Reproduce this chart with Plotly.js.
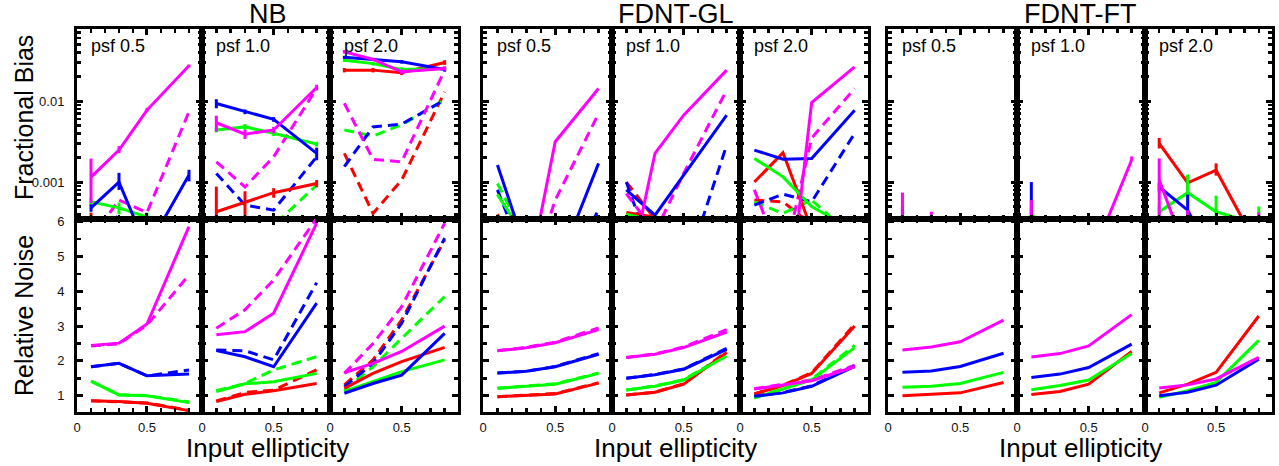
<!DOCTYPE html>
<html>
<head>
<meta charset="utf-8">
<script src="https://cdn.plot.ly/plotly-3.0.1.min.js"></script>
<style>html,body{margin:0;padding:0;background:#fff;}#chart{width:1279px;height:466px;}</style>
</head>
<body>
<div id="chart"></div>
<script>
// ---------------- DATA ----------------
const X_ELL = [0.1, 0.3, 0.5, 0.8];
const METHODS = ['NB', 'FDNT-GL', 'FDNT-FT'];
const PSF_LABELS = ['psf 0.5', 'psf 1.0', 'psf 2.0'];
const SERIES_COLORS = ['#ff0000', '#00ff00', '#0000ff', '#ff00ff']; // red, green, blue, magenta
const X_TICK_LABELS = ['0', '0.5'];
const BIAS_TICK_LABELS = ['0.001', '0.01'];
const NOISE_TICK_LABELS = ['1', '2', '3', '4', '5', '6'];

// Fractional bias (series order: red, green, blue, magenta); S = solid, D = dashed
const NB05_BIAS_S = [[0.00037,0.0001,0.00008,0.00005],[0.00057,0.00048,0.00037,0.0001],[0.00048,0.001,0.00015,0.00122],[0.00115,0.00248,0.00774,0.0273]];
const NB05_BIAS_D = [[0.0001,0.0001,0.0001,0.0001],[0.0001,0.0001,0.0001,0.0001],[0.00015,0.0004,0.0001,0.0001],[0.0002,0.0006,0.00042,0.00738]];
const NB10_BIAS_S = [[0.00043,0.00057,0.00074,0.00096],[0.0044,0.0048,0.0040,0.00294],[0.00935,0.00738,0.00594,0.00226],[0.0054,0.0039,0.0044,0.0147]];
const NB10_BIAS_D = [[0.0001,0.0001,0.0001,0.0001],[0.0001,0.0001,0.00029,0.00092],[0.00128,0.00052,0.00045,0.00205],[0.00178,0.00087,0.00205,0.0144]];
const NB20_BIAS_S = [[0.0241,0.0241,0.0224,0.030],[0.032,0.029,0.0246,0.0253],[0.0347,0.0327,0.0305,0.0246],[0.0407,0.0327,0.023,0.0253]];
const NB20_BIAS_D = [[0.00226,0.00041,0.00106,0.013],[0.0044,0.0037,0.0051,0.0103],[0.00155,0.0048,0.0052,0.0103],[0.0094,0.00191,0.00178,0.0241]];

const GL05_BIAS_S = [[0.0004,0.0001,0.0001,0.0001],[0.0007,0.0002,0.0001,0.0001],[0.00162,0.00014,0.000076,0.0017],[0.00003,0.00005,0.00315,0.0143]];
const GL05_BIAS_D = [[0.0001,0.0001,0.0001,0.0001],[0.00096,0.0002,0.0001,0.0001],[0.0008,0.0001,0.00005,0.00045],[0.00003,0.00005,0.0006,0.0070]];
const GL10_BIAS_S = [[0.00042,0.00037,0.0001,0.0001],[0.0004,0.00033,0.0001,0.0001],[0.0008,0.00039,0.00122,0.0067],[0.00005,0.00226,0.0067,0.0241]];
const GL10_BIAS_D = [[0.001,0.00035,0.0001,0.0001],[0.0004,0.0003,0.0001,0.0001],[0.001,0.0001,0.000069,0.00286],[0.00072,0.00024,0.00128,0.0137]];
const GL20_BIAS_S = [[0.001,0.0023,0.00026,0.0001],[0.00196,0.00116,0.0005,0.00025],[0.00248,0.00192,0.00196,0.0077],[0.0001,0.0000085,0.0096,0.0265]];
const GL20_BIAS_D = [[0.0006,0.00057,0.0003,0.0001],[0.00057,0.00041,0.0006,0.0002],[0.00052,0.00071,0.00057,0.0040],[0.0008,0.0001,0.0035,0.0143]];

const FT05_BIAS_S = [[0.0003,0.0001,0.0001,0.0001],[0.0001,0.0001,0.0001,0.0001],[0.0003,0.0001,0.0001,0.0001],[0.0003,0.0003,0.0001,0.0001]];
const FT10_BIAS_S = [[0.0001,0.0001,0.0001,0.0001],[0.0004,0.0002,0.0001,0.0001],[0.0003,0.0001,0.0001,0.0001],[0.0003,0.0001,0.000095,0.00187]];
const FT20_BIAS_S = [[0.003,0.00098,0.0014,0.00015],[0.00043,0.00074,0.00043,0.0003],[0.00087,0.00045,0.0001,0.0001],[0.00106,0.00012,0.0001,0.0001]];

// Error bars on the bias curves (upper, lower), series order red, green, blue, magenta
const NB05_ERR_UP = [[0.00005,0,0,0],[0.00006,0.00008,0.00005,0],[0.00005,0.0003,0,0.0002],[0.0008,0.0003,0.0005,0.001]];
const NB05_ERR_DN = [[0.00005,0,0,0],[0.00006,0.00008,0.00005,0],[0.00005,0.0002,0,0.0002],[0.0006,0.0002,0.0004,0.001]];
const NB10_ERR_UP = [[0.00045,0.0002,0.0001,0.0001],[0.0003,0.0004,0.0003,0.0002],[0.0012,0.0005,0.0004,0.0004],[0.0012,0.0005,0.0004,0.0012]];
const NB10_ERR_DN = [[0.0002,0.0002,0.0001,0.0001],[0.0003,0.0004,0.0003,0.0002],[0.0012,0.0005,0.0004,0.0004],[0.0012,0.0005,0.0004,0.0012]];
const NB20_ERR_UP = [[0.0015,0.0015,0.0015,0.002],[0.0015,0.0015,0.0015,0.0015],[0.0015,0.0015,0.0015,0.0015],[0.002,0.0015,0.0015,0.0015]];
const NB20_ERR_DN = [[0.0015,0.0015,0.0015,0.002],[0.0015,0.0015,0.0015,0.0015],[0.0015,0.0015,0.0015,0.0015],[0.002,0.0015,0.0015,0.0015]];
const FT05_ERR_UP = [[0.0002,0,0,0],[0,0,0,0],[0.0002,0,0,0],[0.00044,0.00013,0,0]];
const FT10_ERR_UP = [[0,0,0,0],[0.0001,0,0,0],[0.0007,0,0,0],[0.0003,0,0,0.0002]];
const FT20_ERR_UP = [[0.0005,0.0002,0.0003,0],[0.0001,0.0005,0.00025,0.0002],[0.0001,0.00025,0,0],[0.0009,0.00033,0,0.00032]];
const FT20_ERR_DN = [[0.0004,0.0002,0.0002,0],[0.0001,0.0002,0.0002,0],[0.0001,0.0001,0,0],[0.0007,0,0,0]];

// Relative noise (series order: red, green, blue, magenta)
const NB05_NOISE_S = [[0.85,0.83,0.78,0.57],[1.42,1.02,1.0,0.80],[1.83,1.93,1.57,1.62],[2.44,2.51,3.06,5.86]];
const NB05_NOISE_D = [[0.85,0.83,0.79,0.58],[1.42,1.03,1.0,0.82],[1.83,1.93,1.57,1.74],[2.43,2.49,3.03,4.47]];
const NB10_NOISE_S = [[0.83,1.04,1.14,1.35],[1.12,1.34,1.40,1.64],[2.30,2.12,1.83,3.66],[2.75,2.84,3.37,5.96]];
const NB10_NOISE_D = [[0.85,1.09,1.16,1.74],[1.14,1.35,1.74,2.12],[2.31,2.29,2.03,4.25],[2.94,3.47,4.33,6.1]];
const NB20_NOISE_S = [[1.21,1.64,1.98,2.39],[1.12,1.40,1.69,2.03],[1.07,1.35,1.59,2.79],[1.66,1.93,2.27,3.0]];
const NB20_NOISE_D = [[1.31,2.03,3.18,5.48],[1.16,1.83,2.65,3.85],[1.26,1.93,3.08,5.53],[1.64,2.5,3.56,5.96]];

const GL05_NOISE_S = [[0.97,1.01,1.05,1.36],[1.21,1.27,1.33,1.64],[1.65,1.70,1.83,2.19],[2.29,2.38,2.52,2.90]];
const GL05_NOISE_D = [[0.97,1.01,1.06,1.37],[1.21,1.27,1.34,1.65],[1.65,1.70,1.84,2.21],[2.29,2.39,2.54,2.95]];
const GL10_NOISE_S = [[1.02,1.10,1.33,2.24],[1.16,1.27,1.45,2.14],[1.50,1.60,1.76,2.33],[2.10,2.19,2.38,2.83]];
const GL10_NOISE_D = [[1.02,1.10,1.34,2.27],[1.16,1.28,1.46,2.17],[1.50,1.61,1.77,2.36],[2.10,2.20,2.40,2.90]];
const GL20_NOISE_S = [[1.05,1.29,1.64,3.0],[0.93,1.19,1.45,2.38],[0.98,1.08,1.27,1.84],[1.19,1.31,1.43,1.83]];
const GL20_NOISE_D = [[1.05,1.30,1.66,3.05],[0.94,1.20,1.47,2.45],[0.99,1.09,1.28,1.87],[1.20,1.32,1.45,1.87]];

const FT05_NOISE_S = [[1.0,1.03,1.08,1.38],[1.24,1.27,1.35,1.67],[1.67,1.71,1.84,2.22],[2.31,2.40,2.55,3.17]];
const FT10_NOISE_S = [[1.03,1.12,1.33,2.27],[1.17,1.29,1.45,2.21],[1.52,1.62,1.81,2.48],[2.11,2.21,2.43,3.33]];
const FT20_NOISE_S = [[1.08,1.33,1.67,3.29],[0.95,1.14,1.38,2.59],[1.0,1.10,1.30,2.05],[1.22,1.31,1.48,2.10]];

// ---------------- LAYOUT / DRAWING ----------------
const W = 1279, H = 466;
const COL_PX = [[77,202],[202,330],[330,458],[483,612],[612,740],[740,868],[888,1017],[1017,1145],[1145,1272]];
const ROW_PX = [[29,219],[219,412]];
const px2x = p => p / W;
const px2y = p => 1 - p / H;

const PANELS = [
  {bS:NB05_BIAS_S,bD:NB05_BIAS_D,eU:NB05_ERR_UP,eD:NB05_ERR_DN,nS:NB05_NOISE_S,nD:NB05_NOISE_D},
  {bS:NB10_BIAS_S,bD:NB10_BIAS_D,eU:NB10_ERR_UP,eD:NB10_ERR_DN,nS:NB10_NOISE_S,nD:NB10_NOISE_D},
  {bS:NB20_BIAS_S,bD:NB20_BIAS_D,eU:NB20_ERR_UP,eD:NB20_ERR_DN,nS:NB20_NOISE_S,nD:NB20_NOISE_D},
  {bS:GL05_BIAS_S,bD:GL05_BIAS_D,eU:null,eD:null,nS:GL05_NOISE_S,nD:GL05_NOISE_D},
  {bS:GL10_BIAS_S,bD:GL10_BIAS_D,eU:null,eD:null,nS:GL10_NOISE_S,nD:GL10_NOISE_D},
  {bS:GL20_BIAS_S,bD:GL20_BIAS_D,eU:null,eD:null,nS:GL20_NOISE_S,nD:GL20_NOISE_D},
  {bS:FT05_BIAS_S,bD:null,eU:FT05_ERR_UP,eD:null,nS:FT05_NOISE_S,nD:null},
  {bS:FT10_BIAS_S,bD:null,eU:FT10_ERR_UP,eD:null,nS:FT10_NOISE_S,nD:null},
  {bS:FT20_BIAS_S,bD:null,eU:FT20_ERR_UP,eD:FT20_ERR_DN,nS:FT20_NOISE_S,nD:null}
];

const FONT = 'Liberation Sans, Arial, Helvetica, sans-serif';
const traces = [];
const layout = {
  width: W, height: H,
  margin: {l:0, r:0, t:0, b:0},
  paper_bgcolor: '#fff', plot_bgcolor: '#fff',
  showlegend: false,
  font: {family: FONT, color: '#000'},
  annotations: []
};

const BIAS_MINOR = [];
[0.0001, 0.001, 0.01].forEach(d => { for (let k = 2; k <= 9; k++) BIAS_MINOR.push(d * k); });

let axN = 0;
function addAxes(col, row) {
  axN++;
  const xs = axN === 1 ? 'xaxis' : 'xaxis' + axN;
  const ys = axN === 1 ? 'yaxis' : 'yaxis' + axN;
  const xr = axN === 1 ? 'x' : 'x' + axN;
  const yr = axN === 1 ? 'y' : 'y' + axN;
  const [l, r] = COL_PX[col];
  const [t, b] = ROW_PX[row];
  layout[xs] = {
    domain: [px2x(l), px2x(r)], anchor: yr, range: [0, 0.893],
    showline: true, linewidth: 3, linecolor: '#000', mirror: 'ticks',
    ticks: 'inside', ticklen: 6, tickwidth: 3, tickcolor: '#000',
    tickmode: 'array', tickvals: [0, 0.5], ticktext: X_TICK_LABELS,
    minor: {ticks: 'inside', ticklen: 4, tickwidth: 2.5, tickcolor: '#000', dtick: 0.1, tick0: 0, showgrid: false},
    showticklabels: row === 1, ticklabelstandoff: 1,
    tickfont: {family: FONT, size: 13, color: '#111'},
    showgrid: false, zeroline: false, fixedrange: true
  };
  const y = {
    domain: [px2y(b), px2y(t)], anchor: xr,
    showline: true, linewidth: 3, linecolor: '#000', mirror: 'ticks',
    ticks: 'inside', ticklen: 6, tickwidth: 3, tickcolor: '#000',
    showticklabels: col === 0, ticklabelstandoff: 7,
    tickfont: {family: FONT, size: 13, color: '#111'},
    showgrid: false, zeroline: false, fixedrange: true
  };
  if (row === 0) {
    Object.assign(y, {type: 'log', range: [Math.log10(0.00035), Math.log10(0.0776)],
      tickmode: 'array', tickvals: [0.001, 0.01], ticktext: BIAS_TICK_LABELS,
      minor: {ticks: 'inside', ticklen: 4, tickwidth: 2.5, tickcolor: '#000', tickmode: 'array', tickvals: BIAS_MINOR, showgrid: false}});
  } else {
    Object.assign(y, {range: [0.53, 6.08], tickmode: 'array', tickvals: [1,2,3,4,5,6], ticktext: NOISE_TICK_LABELS,
      minor: {ticks: 'inside', ticklen: 4, tickwidth: 2.5, tickcolor: '#000', dtick: 0.5, tick0: 0, showgrid: false}});
  }
  layout[ys] = y;
  return [xr, yr];
}

function addSeries(xr, yr, set, dashed, errUp, errDn) {
  if (!set) return;
  set.forEach((vals, i) => {
    const tr = {
      type: 'scatter', mode: 'lines', x: X_ELL, y: vals, xaxis: xr, yaxis: yr,
      line: {color: SERIES_COLORS[i], width: 3, dash: dashed ? '10px,6px' : 'solid'},
      hoverinfo: 'skip', cliponaxis: true
    };
    if (errUp) {
      tr.error_y = {type: 'data', symmetric: false, array: errUp[i], arrayminus: errDn ? errDn[i] : errUp[i].map(() => 0),
        color: SERIES_COLORS[i], thickness: 3, width: 0};
    }
    traces.push(tr);
  });
}

PANELS.forEach((p, col) => {
  const [xb, yb] = addAxes(col, 0);
  addSeries(xb, yb, p.bD, true, null, null);
  addSeries(xb, yb, p.bS, false, p.eU, p.eD);
  const [xn, yn] = addAxes(col, 1);
  addSeries(xn, yn, p.nD, true, null, null);
  addSeries(xn, yn, p.nS, false, null, null);
  layout.annotations.push({text: PSF_LABELS[col % 3], xref: 'paper', yref: 'paper',
    x: px2x(COL_PX[col][0] + 12), y: px2y(46), xanchor: 'left', yanchor: 'middle', showarrow: false,
    font: {family: FONT, size: 18, color: '#000'}});
});

for (let g = 0; g < 3; g++) {
  const cx = (COL_PX[g*3][0] + COL_PX[g*3+2][1]) / 2;
  layout.annotations.push({text: METHODS[g], xref: 'paper', yref: 'paper', x: px2x(cx), y: px2y(14),
    xanchor: 'center', yanchor: 'middle', showarrow: false, font: {family: FONT, size: 27, color: '#000'}});
  layout.annotations.push({text: 'Input ellipticity', xref: 'paper', yref: 'paper', x: px2x(cx), y: px2y(448),
    xanchor: 'center', yanchor: 'middle', showarrow: false, font: {family: FONT, size: 26, color: '#000'}});
}
layout.annotations.push({text: 'Fractional Bias', xref: 'paper', yref: 'paper', x: px2x(24), y: px2y(118),
  xanchor: 'center', yanchor: 'middle', textangle: -90, showarrow: false, font: {family: FONT, size: 25, color: '#000'}});
layout.annotations.push({text: 'Relative Noise', xref: 'paper', yref: 'paper', x: px2x(24), y: px2y(316),
  xanchor: 'center', yanchor: 'middle', textangle: -90, showarrow: false, font: {family: FONT, size: 25, color: '#000'}});

Plotly.newPlot('chart', traces, layout, {displayModeBar: false, staticPlot: true});
</script>
</body>
</html>
